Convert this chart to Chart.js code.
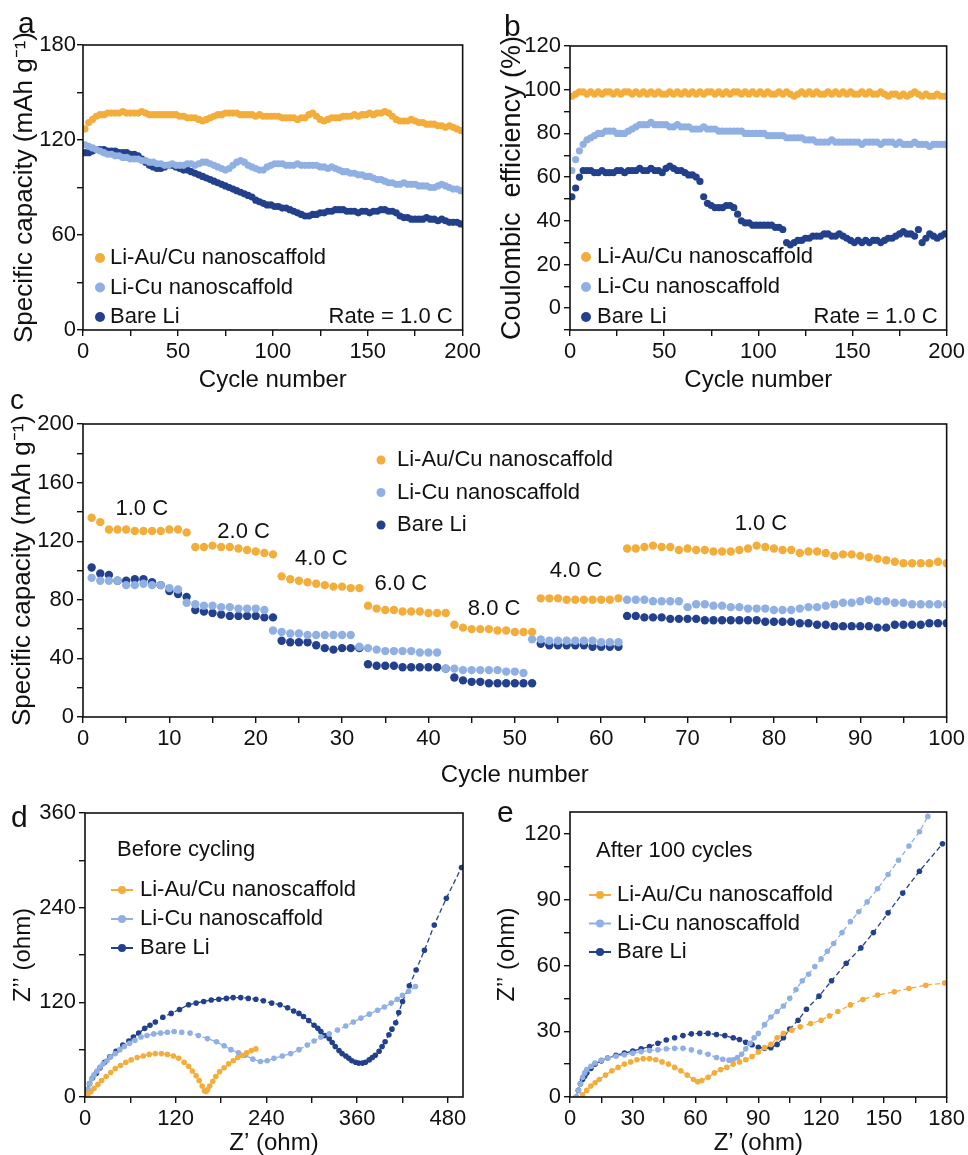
<!DOCTYPE html>
<html>
<head>
<meta charset="utf-8">
<script src="https://cdn.jsdelivr.net/npm/chart.js@4.4.1/dist/chart.umd.min.js"></script>
<style>
  body { margin: 0; background: #fff; }
  #fig { position: relative; width: 968px; height: 1155px; overflow: hidden; background: #fff;
         font-family: "Liberation Sans", Arial, sans-serif; }
  .pane { position: absolute; }
  .tag { position: absolute; font-size: 30px; line-height: 1; color: #111; }
</style>
</head>
<body>
<div id="fig">
  <canvas id="chA" class="pane" style="left:0;top:0" width="484" height="392"></canvas>
  <canvas id="chB" class="pane" style="left:484px;top:0" width="484" height="392"></canvas>
  <canvas id="chC" class="pane" style="left:0;top:392px" width="968" height="395"></canvas>
  <canvas id="chD" class="pane" style="left:0;top:785px" width="484" height="370"></canvas>
  <canvas id="chE" class="pane" style="left:484px;top:785px" width="484" height="370"></canvas>
  <div class="tag" style="left:18px;top:8px">a</div>
  <div class="tag" style="left:504px;top:11px">b</div>
  <div class="tag" style="left:10px;top:386px;font-size:28px">c</div>
  <div class="tag" style="left:11px;top:802px">d</div>
  <div class="tag" style="left:497px;top:797px">e</div>
</div>
<script>
// --- series names / colours
const names = ['Li-Au/Cu nanoscaffold', 'Li-Cu nanoscaffold', 'Bare Li'];
const colAu = '#F3AD3A', colCu = '#90B0E3', colLi = '#22408C';
const INK = '#111';

// --- (a) capacity at 1.0 C, every 2nd cycle (1,3,...,199)
const abCycles = Array.from({ length: 100 }, (_, i) => 2 * i + 1);
const aAuCu = [127,131,133,135,136,136,137,137,137,137, 138,137,137,137,137,138,137,136,136,136,
  136,136,136,136,136,135,135,134,134,134, 133,132,133,134,135,136,136,137,137,137,
  137,136,136,136,136,135,136,135,135,135, 135,135,134,134,134,134,133,134,134,136,
  137,135,133,132,133,134,134,134,135,135, 135,136,135,136,136,137,136,137,137,138,
  137,135,133,132,132,132,133,132,131,131, 130,130,130,129,129,128,129,128,127,126];
const aCu = [117,116,115,114,113,112,111,111,110,110, 109,109,108,108,108,107,107,106,106,105,
  105,104,104,105,104,104,104,105,105,104, 105,106,106,105,104,103,102,101,102,104,
  106,107,106,104,103,102,101,101,103,104, 105,105,105,104,104,104,105,104,104,104,
  104,104,103,103,102,103,102,101,100,100, 99,99,98,98,97,97,96,95,95,94,
  93,93,92,92,93,92,92,92,91,91, 91,90,90,91,92,91,90,89,89,88];
const aLi = [112,112,113,114,114,114,113,113,113,112, 112,112,111,111,110,108,106,104,103,102,
  102,103,104,104,103,102,101,101,100,99, 98,97,96,95,94,93,92,91,90,89,
  88,87,86,85,84,82,81,80,79,79, 78,78,77,77,76,75,74,73,72,72,
  73,73,74,74,75,75,76,76,76,75, 75,75,74,75,75,74,75,75,76,76,
  75,75,74,72,71,71,70,70,70,70, 71,70,70,69,70,69,68,68,68,67];

// --- (b) coulombic efficiency, same cycles
const bAuCu = [97,98,99,99,98,99,98,99,98,99, 99,98,99,98,99,99,98,99,98,99,
  98,99,98,99,98,98,99,98,99,98, 99,98,99,98,99,98,99,99,98,99,
  98,99,98,99,99,98,99,98,99,98, 99,98,99,98,98,99,98,99,98,97,
  98,99,98,99,98,99,98,98,99,98, 99,98,99,98,99,98,98,99,98,99,
  98,98,99,98,97,98,98,97,98,97, 98,99,98,97,98,97,97,98,97,97];
const bCu = [63,68,72,75,77,78,79,80,80,81, 81,81,80,80,80,81,82,83,84,84,
  84,85,84,84,84,84,83,83,84,83, 83,83,82,82,82,83,82,82,82,81,
  81,81,81,81,81,81,80,80,80,80, 80,80,79,79,79,79,79,78,78,78,
  78,78,77,77,77,76,76,76,76,77, 76,76,76,76,76,76,76,75,76,76,
  76,76,75,76,76,76,75,76,75,75, 75,76,75,75,75,74,75,75,75,75];
const bLi = [51,55,60,63,63,63,62,62,63,62, 62,62,63,63,62,63,63,63,64,63,
  63,64,63,63,62,64,65,64,63,63, 62,61,61,60,58,51,48,47,46,46,
  46,47,47,46,43,40,39,39,38,38, 38,38,38,38,37,37,36,30,29,30,
  31,31,32,32,33,33,33,34,34,33, 33,34,33,32,31,30,31,30,31,30,
  31,31,30,31,32,32,33,34,35,34, 34,33,36,30,32,34,33,32,33,34];

// --- (c) rate capability, cycles 1..100
const cCycles = Array.from({ length: 100 }, (_, i) => i + 1);
const cAuCu = [136,133,128,128,128,127,127,127,127,128,128,126,
  116,116,117,116,116,115,114,113,112,111,
  96,94,93,92,91,90,89,89,88,88,
  76,74,73,73,72,72,72,71,71,71,
  63,61,60,60,60,59,59,58,58,58,
  81,81,81,80,80,80,80,80,80,81,
  115,115,116,117,116,116,114,115,114,114, 113,113,113,114,115,117,116,115,114,114,
  112,113,113,112,110,111,111,110,109,108, 107,106,105,105,105,105,106,105];
const cCu = [95,93,93,93,90,90,91,90,90,88,87,78,
  77,76,76,75,75,74,74,74,73,59,
  58,57,57,56,56,56,56,56,56,48,
  47,46,45,45,45,45,44,44,44,33,
  33,32,32,32,32,32,31,31,30,53,
  53,52,52,52,52,52,52,51,51,51,
  80,80,80,79,79,79,79,75,77,77, 76,76,75,75,74,74,74,73,73,73,
  74,75,75,76,77,78,78,79,80,79, 79,78,78,77,77,77,77,77];
const cLi = [102,98,97,93,93,94,94,92,90,86,84,82,
  73,72,71,70,69,69,69,69,68,68,
  52,51,51,51,49,47,46,47,47,47,
  36,35,35,35,34,34,34,34,34,33,
  27,25,24,24,23,23,23,23,23,23,
  50,49,49,49,49,49,48,48,48,48,
  69,69,68,68,68,67,67,67,67,66, 66,66,66,66,66,66,65,65,65,65,
  64,64,63,63,62,62,62,62,62,61, 61,63,63,63,63,64,64,64];
const cRates = ['1.0 C', '2.0 C', '4.0 C', '6.0 C', '8.0 C', '4.0 C', '1.0 C'];

// --- (d) Nyquist before cycling: Z' and Z'' (ohm)
const dAuRe = [1,4,8,12,17,22,28,34,40,47, 54,61,69,77,85,93,101,109,117,124,
  131,137,142,147,151,155,158,160,162,165, 169,173,178,184,190,196,202,208,214,220, 226];
const dAuIm = [2,4,7,11,16,21,26,31,36,40, 44,47,50,52,54,55,55,54,52,49,
  44,39,33,27,21,14,8,7,9,14, 20,26,32,37,42,46,50,53,56,59, 61];
const dCuRe = [2,4,6,9,12,16,20,24,29,34, 40,46,52,59,66,74,82,91,100,109,
  118,128,139,150,162,174,184,193,203,212, 222,232,241,250,261,272,283,294,303,312,
  323,334,345,355,365,376,387,396,405,413, 420,428,437];
const dCuIm = [4,10,17,23,28,33,38,42,46,51, 55,60,64,68,72,76,78,80,81,82,
  83,82,81,78,74,70,65,60,56,53, 48,45,46,49,52,55,60,66,71,76,
  80,85,90,95,100,105,110,114,119,124, 129,134,140];
const dLiRe = [2,6,10,15,20,26,33,41,50,58, 64,71,79,86,93,103,114,125,137,147,
  157,167,177,187,196,206,216,226,236,247, 258,268,276,283,289,296,303,308,312,317,
  323,327,331,336,340,345,349,353,358,362, 367,371,376,380,384,389,393,397,402,406,
  411,415,420,429,438,449,462,478,498];
const dLiIm = [9,17,24,30,37,44,51,58,66,71, 76,81,87,91,95,101,106,111,117,119,
  121,123,124,125,126,126,125,124,122,119, 117,113,109,106,102,97,91,87,83,78,
  74,69,64,59,55,52,49,46,44,43, 43,44,47,50,53,58,64,70,79,86,
  94,107,121,141,161,186,218,252,291];

// --- (e) Nyquist after 100 cycles
const eAuRe = [6,8,10,12,14,17,20,23,26,29, 32,35,38,41,44,47,50,53,56,59,
  61,63,66,69,72,75,78,81,84,87, 90,93,96,99,102,106,110,115,120,124,
  128,134,140,147,155,162,170,179];
const eAuIm = [1,3,5,6.5,8,10,12,13.5,15,16, 17,17.5,17.5,17,16,15,13.5,12,10,8,
  7,7.5,9,11,12.5,13.5,15,16,17,18.5, 20.5,22.5,24,27,29,30.5,32,33.5,35,37,
  39,42,44.5,46.5,48,49.5,51,52];
const eCuRe = [3,4,5,6,7,8,10,12,15,18, 22,26,30,34,38,42,46,50,54,58,
  62,66,70,73,76,78,80,82,84,86, 88,90,93,96,99,102,105,108,111,114,
  117,120,123,126,130,134,138,142,147,152, 157,162,167,171];
const eCuIm = [0,3,6,9,11,12.5,14,15.5,16.8,17.8, 18.6,19.3,20,20.7,21.2,21.5,22,22.2,22.2,21.5,
  20.5,19.5,18,17.2,16.8,17,18,19.5,22,24.5, 27,29,33,36.5,39,41.5,45,49,53,56,
  59.5,63,66.5,70,75,80,84.5,89,95,101.5, 108,114.5,121,128];
const eLiRe = [3,4,5,6,7,8,10,12,15,18, 22,26,30,34,38,42,46,50,54,58,
  62,66,70,74,78,81,84,87,90,93, 96,99,102,105,109,113,119,125,132,139,
  145,152,159,167,178];
const eLiIm = [0,3,6,8,9.5,11,13,15,16.5,17.8, 19,20,21,22,23,24.5,26,27,28,28.8,
  29,29,28.5,28,27,26.2,25,23.8,22.7,22.2, 22.5,24,27,31,35,40,46,53,61,68,
  75,84,93,103,115.5];

Chart.defaults.font.family = '"Liberation Sans", Arial, sans-serif';
Chart.defaults.color = INK;

// zip two arrays into {x,y}
const pts = (xs, ys) => xs.map((x, i) => ({ x: x, y: ys[i] }));

// frame, in-plot legend and text notes
const panelDeco = {
  id: 'panelDeco',
  afterDatasetsDraw(chart, args, o) {
    const { ctx, chartArea: a, scales } = chart;
    ctx.save();
    ctx.strokeStyle = INK;
    ctx.lineWidth = 1.6;
    ctx.strokeRect(a.left, a.top, a.right - a.left, a.bottom - a.top);
    ctx.font = '22px "Liberation Sans", Arial, sans-serif';
    ctx.textBaseline = 'middle';
    const lg = o.legend;
    if (lg) {
      chart.data.datasets.forEach((ds, i) => {
        const y = a.top + lg.y + i * lg.dy, mx = a.left + lg.x;
        ctx.fillStyle = ds.backgroundColor;
        ctx.strokeStyle = ds.backgroundColor;
        if (lg.line) {
          ctx.lineWidth = 2;
          ctx.beginPath(); ctx.moveTo(mx - 11, y); ctx.lineTo(mx + 11, y); ctx.stroke();
        }
        ctx.beginPath(); ctx.arc(mx, y, lg.r, 0, Math.PI * 2); ctx.fill();
        ctx.fillStyle = INK;
        ctx.textAlign = 'left';
        ctx.fillText(ds.label, a.left + lg.tx, y);
      });
    }
    (o.notes || []).forEach(n => {
      ctx.fillStyle = INK;
      ctx.textAlign = n.align || 'left';
      let x, y;
      if (n.data) { x = scales.x.getPixelForValue(n.x); y = scales.y.getPixelForValue(n.y); }
      else { x = n.fromRight ? a.right - n.x : a.left + n.x; y = a.top + n.y; }
      ctx.fillText(n.text, x, y);
    });
    ctx.restore();
  }
};
Chart.register(panelDeco);

function axisX(min, max, step, every, title, h, titlePad) {
  return {
    type: 'linear', min: min, max: max,
    afterFit: s => { s.height = h; },
    border: { display: false },
    grid: { drawOnChartArea: false, tickLength: 6, color: INK, lineWidth: 1.4 },
    ticks: { stepSize: step, autoSkip: false, maxRotation: 0, includeBounds: false, padding: 3,
      color: INK, font: { size: 22 }, callback: v => (v % every === 0 ? v : '') },
    title: { display: true, text: title, color: INK, font: { size: 24, lineHeight: 1 },
      padding: { top: titlePad, bottom: 0 } }
  };
}
function axisY(min, max, step, every, title, w, titlePad, tickPad, titleSize) {
  return {
    type: 'linear', min: min, max: max,
    afterFit: s => { s.width = w; },
    border: { display: false },
    grid: { drawOnChartArea: false, tickLength: 6, color: INK, lineWidth: 1.4 },
    ticks: { stepSize: step, autoSkip: false, includeBounds: false, padding: tickPad,
      color: INK, font: { size: 22 }, callback: v => (v >= 0 && v % every === 0 ? v : '') },
    title: { display: true, text: title, color: INK, font: { size: titleSize || 26, lineHeight: 1 },
      padding: { top: titlePad, bottom: 0 } }
  };
}

function dotSet(label, color, data, r) {
  return { label: label, data: data, backgroundColor: color, borderColor: color,
    pointRadius: r, pointBorderWidth: 0, pointHoverRadius: r, showLine: false };
}
function lineSet(label, color, data) {
  return { label: label, data: data, backgroundColor: color, borderColor: color,
    borderWidth: 1.3, borderDash: [5, 3], pointRadius: 2.8, pointBorderWidth: 0,
    showLine: true, tension: 0 };
}

function makePanel(id, datasets, scales, pad, deco) {
  return new Chart(document.getElementById(id), {
    type: 'scatter',
    data: { datasets: datasets },
    options: {
      responsive: false, animation: false, events: [],
      layout: { padding: pad },
      scales: scales,
      plugins: { legend: { display: false }, tooltip: { enabled: false }, panelDeco: deco }
    }
  });
}

// (a)
makePanel('chA', [
  dotSet(names[0], colAu, pts(abCycles, aAuCu), 3.6),
  dotSet(names[1], colCu, pts(abCycles, aCu), 3.6),
  dotSet(names[2], colLi, pts(abCycles, aLi), 3.6)
], {
  x: axisX(0, 200, 25, 50, 'Cycle number', 62, 2),
  y: axisY(0, 180, 30, 60, 'Specific capacity (mAh g\u207B\u00B9)', 83, 12, 1)
}, { top: 45, right: 21, left: 0, bottom: 0 }, {
  legend: { x: 17, tx: 27, y: 213, dy: 29.5, r: 5 },
  notes: [{ text: 'Rate = 1.0 C', x: 10, y: 272, fromRight: true, align: 'right' }]
});

// (b)
makePanel('chB', [
  dotSet(names[0], colAu, pts(abCycles, bAuCu), 3.6),
  dotSet(names[1], colCu, pts(abCycles, bCu), 3.6),
  dotSet(names[2], colLi, pts(abCycles, bLi), 3.6)
], {
  x: axisX(0, 200, 25, 50, 'Cycle number', 62, 2),
  y: axisY(-10, 120, 10, 20, 'Coulombic  efficiency (%)', 86, 15, 3, 27)
}, { top: 46, right: 20, left: 0, bottom: 0 }, {
  legend: { x: 16, tx: 27, y: 211, dy: 30, r: 5 },
  notes: [{ text: 'Rate = 1.0 C', x: 9, y: 271, fromRight: true, align: 'right' }]
});

// (c)
const cNoteAt = [[6.8, 142], [18.6, 126], [27.6, 108], [36.8, 91], [47.6, 74], [57.1, 100], [78.5, 132]];
makePanel('chC', [
  dotSet(names[0], colAu, pts(cCycles, cAuCu), 4.2),
  dotSet(names[1], colCu, pts(cCycles, cCu), 4.2),
  dotSet(names[2], colLi, pts(cCycles, cLi), 4.2)
], {
  x: axisX(0, 100, 5, 10, 'Cycle number', 70, 8),
  y: axisY(0, 200, 20, 40, 'Specific capacity (mAh g\u207B\u00B9)', 83, 10, 3)
}, { top: 32, right: 20, left: 0, bottom: 0 }, {
  legend: { x: 298, tx: 314, y: 36, dy: 32.5, r: 4.5 },
  notes: cRates.map((t, i) => ({ text: t, x: cNoteAt[i][0], y: cNoteAt[i][1], data: true, align: 'center' }))
});

// (d)
makePanel('chD', [
  lineSet(names[0], colAu, pts(dAuRe, dAuIm)),
  lineSet(names[1], colCu, pts(dCuRe, dCuIm)),
  lineSet(names[2], colLi, pts(dLiRe, dLiIm))
], {
  x: axisX(0, 500, 60, 120, 'Z\u2019 (ohm)', 58, 0),
  y: axisY(0, 360, 60, 120, 'Z\u2019\u2019 (ohm)', 85, 11, 3, 24)
}, { top: 28, right: 21, left: 0, bottom: 0 }, {
  legend: { x: 37, tx: 55, y: 77, dy: 29, r: 4, line: true },
  notes: [{ text: 'Before cycling', x: 32, y: 37 }]
});

// (e)
makePanel('chE', [
  lineSet(names[0], colAu, pts(eAuRe, eAuIm)),
  lineSet(names[1], colCu, pts(eCuRe, eCuIm)),
  lineSet(names[2], colLi, pts(eLiRe, eLiIm))
], {
  x: axisX(0, 180, 15, 30, 'Z\u2019 (ohm)', 58, 1.5),
  y: axisY(0, 130, 15, 30, 'Z\u2019\u2019 (ohm)', 86, 11, 3, 24)
}, { top: 27, right: 20, left: 0, bottom: 0 }, {
  legend: { x: 30, tx: 47, y: 83, dy: 28.5, r: 4, line: true },
  notes: [{ text: 'After 100 cycles', x: 26, y: 39 }]
});
</script>
</body>
</html>
